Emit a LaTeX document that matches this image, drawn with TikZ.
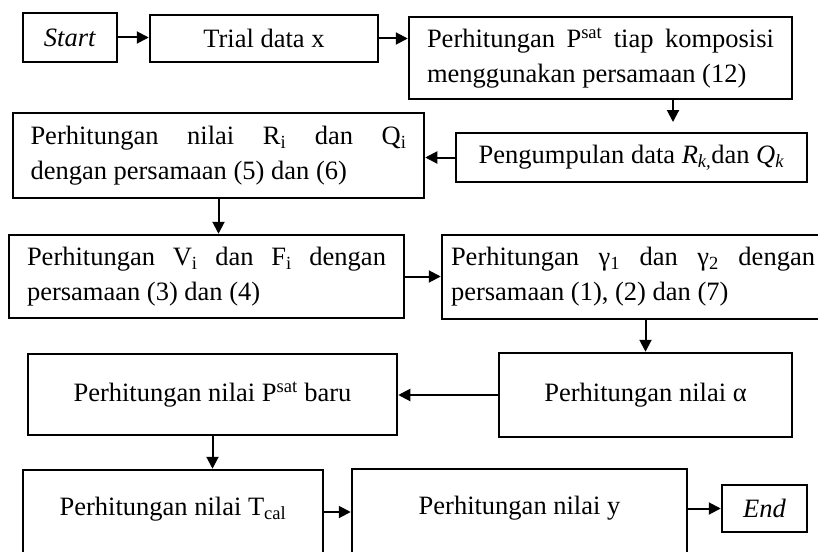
\documentclass[tikz,border=0pt]{standalone}
\usepackage{fontspec}
\setmainfont{Liberation Serif}
\usepackage{tikz}
\usetikzlibrary{arrows.meta}

\begin{document}
\begin{tikzpicture}[
  x=1pt,
  y=-1pt,
  >={Triangle[length=12pt,width=12pt]},
  every node/.style={font=\fontsize{26.5}{35}\selectfont},
  box/.style={
    draw,
    line width=2.5pt,
    inner sep=0pt,
    align=center
  },
  twoline/.style={
    draw,
    line width=2.5pt,
    inner xsep=#1,
    inner ysep=0pt,
    align=justify
  },
  flow/.style={->, line width=2pt}
]
\useasboundingbox (0,0) rectangle (818,551);
\node[box, minimum width=94pt, minimum height=49pt] (start) at (70,37.5) {\textit{Start}};
\node[box, minimum width=228pt, minimum height=47pt] (trial) at (264,38.5) {Trial data x};
\node[twoline=18pt, text width=347pt, minimum height=82pt] (psat) at (600.5,58) {Perhitungan P\textsuperscript{sat} tiap komposisi\linebreak
  menggunakan persamaan (12)};
\node[box, minimum width=351pt, minimum height=49pt] (coll) at (631.5,157.5) {Pengumpulan data \textit{R}\textsubscript{\textit{k,}}dan \textit{Q}\textsubscript{\textit{k}}};
\node[twoline=17.5pt, text width=376pt, minimum height=85pt] (rq) at (218.5,155.5) {Perhitungan nilai R\textsubscript{i} dan Q\textsubscript{i}\linebreak
  dengan persamaan (5) dan (6)};
\node[twoline=18pt, text width=359pt, minimum height=83pt] (vf) at (206.5,276.5) {Perhitungan V\textsubscript{i} dan F\textsubscript{i} dengan\linebreak
  persamaan (3) dan (4)};
\node[twoline=9pt, text width=364pt, minimum height=84pt] (gamma) at (633,277) {Perhitungan γ\textsubscript{1} dan γ\textsubscript{2} dengan\linebreak
  persamaan (1), (2) dan (7)};
\node[box, minimum width=293pt, minimum height=84pt] (alpha) at (645.5,395) {Perhitungan nilai α};
\node[box, minimum width=369pt, minimum height=81pt] (pbaru) at (212.5,394.5) {Perhitungan nilai P\textsuperscript{sat} baru};
\node[box, minimum width=300pt, minimum height=84pt, text height=13pt, text depth=6pt] (tcal) at (173,512) {Perhitungan nilai T\textsubscript{cal}};
\node[box, minimum width=335pt, minimum height=84pt, text height=13pt, text depth=6pt] (ycalc) at (519.5,511) {Perhitungan nilai y};
\node[box, minimum width=85pt, minimum height=47pt] (stop) at (764.5,508.5) {\textit{End}};
\coordinate (gap) at (673,122);
\draw[flow] (start.east) -- (start.east -| trial.west);
\draw[flow] (trial.east) -- (trial.east -| psat.west);
\draw[flow] (psat.south -| gap) -- (gap);
\draw[flow] (coll.west) -- (coll.west -| rq.east);
\draw[flow] (rq.south) -- (rq.south |- vf.north);
\draw[flow] (vf.east) -- (vf.east -| gamma.west);
\draw[flow] (alpha.north |- gamma.south) -- (alpha.north);
\draw[flow] (alpha.west) -- (alpha.west -| pbaru.east);
\draw[flow] (pbaru.south) -- (pbaru.south |- tcal.north);
\draw[flow] (tcal.east) -- (tcal.east -| ycalc.west);
\draw[flow] (ycalc.east |- stop.west) -- (stop.west);
\end{tikzpicture}
\end{document}
